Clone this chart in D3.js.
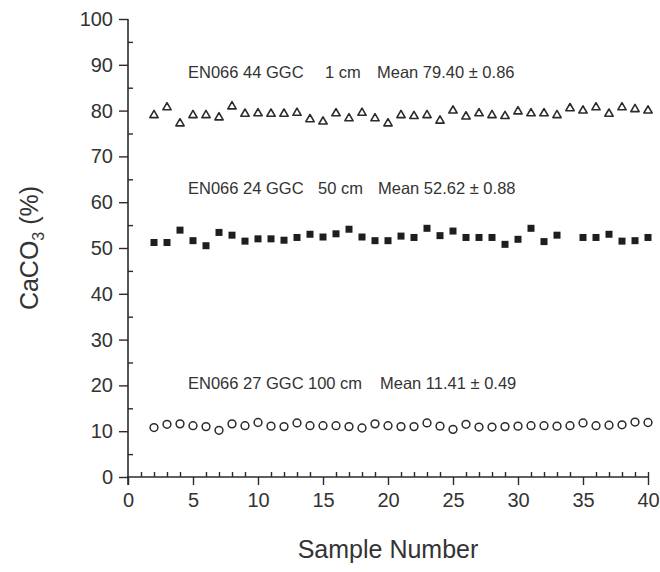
<!DOCTYPE html>
<html>
<head>
<meta charset="utf-8">
<script src="https://cdn.jsdelivr.net/npm/d3@7"></script>
<style>
  html, body { margin: 0; padding: 0; background: #fff; }
  svg { display: block; font-family: "Liberation Sans", Arial, Helvetica, sans-serif; }
</style>
</head>
<body>
<svg id="chart" width="660" height="572"></svg>
<script>
// Sample numbers 2..40 shared by all three cores
const samples = d3.range(2, 41);

// EN066 44 GGC, 1 cm — CaCO3 (%)
const core44 = [79.0, 80.7, 77.2, 79.0, 79.0, 78.5, 80.9, 79.3, 79.4, 79.3,
                79.3, 79.5, 78.1, 77.6, 79.4, 78.3, 79.5, 78.3, 77.2, 79.0,
                78.8, 79.0, 77.8, 80.0, 78.7, 79.4, 79.0, 78.8, 79.8, 79.4,
                79.4, 79.0, 80.5, 80.0, 80.7, 79.3, 80.7, 80.3, 80.0];

// EN066 24 GGC, 50 cm — sample 34 has no value
const core24 = [51.2, 51.2, 53.9, 51.6, 50.5, 53.4, 52.8, 51.5, 52.0, 52.0,
                51.7, 52.3, 53.0, 52.4, 53.1, 54.1, 52.4, 51.6, 51.6, 52.6,
                52.3, 54.3, 52.7, 53.7, 52.3, 52.3, 52.3, 50.8, 51.9, 54.3,
                51.4, 52.8, null, 52.3, 52.3, 53.0, 51.5, 51.6, 52.3];

// EN066 27 GGC, 100 cm
const core27 = [10.8, 11.5, 11.6, 11.2, 11.0, 10.2, 11.6, 11.2, 11.9, 11.1,
                11.0, 11.8, 11.2, 11.2, 11.2, 11.0, 10.7, 11.6, 11.2, 11.0,
                11.0, 11.8, 11.1, 10.4, 11.5, 10.9, 10.9, 11.0, 11.1, 11.2,
                11.2, 11.1, 11.2, 11.8, 11.2, 11.3, 11.4, 12.0, 11.9];

const xTicks = [0, 5, 10, 15, 20, 25, 30, 35, 40];
const yTicks = [0, 10, 20, 30, 40, 50, 60, 70, 80, 90, 100];

const coreNames  = ["EN066 44 GGC", "EN066 24 GGC", "EN066 27 GGC"];
const coreDepths = ["1 cm", "50 cm", "100 cm"];
const coreMeans  = ["Mean 79.40 \u00b1 0.86", "Mean 52.62 \u00b1 0.88", "Mean 11.41 \u00b1 0.49"];

const ink = "#2b2b2b";
const svg = d3.select("#chart");

const x = d3.scaleLinear().domain([0, 40]).range([128, 648]);
const y = d3.scaleLinear().domain([0, 100]).range([477, 19]);

// ---- axes ----
const gx = svg.append("g").attr("transform", `translate(0,${y(0)})`);
gx.call(d3.axisBottom(x).tickValues(xTicks).tickSize(8).tickPadding(8)
        .tickFormat(d3.format("d")));
// minor ticks pointing inward
const gxm = svg.append("g").attr("transform", `translate(0,${y(0)})`);
gxm.call(d3.axisTop(x).tickValues(d3.range(1, 41).filter(d => d % 5 !== 0 || d === 40))
        .tickSize(5).tickFormat(""));
gxm.select(".domain").remove();

const gy = svg.append("g").attr("transform", `translate(${x(0)},0)`);
gy.call(d3.axisLeft(y).tickValues(yTicks).tickSize(9).tickPadding(6)
        .tickFormat(d3.format("d")));
const gym = svg.append("g").attr("transform", `translate(${x(0)},0)`);
gym.call(d3.axisRight(y).tickValues(d3.range(5, 100, 10)).tickSize(5).tickFormat(""));
gym.select(".domain").remove();

svg.selectAll(".domain").attr("stroke", ink).attr("stroke-width", 1.6);
// plain straight axis lines (no end caps)
gx.select(".domain").attr("d", `M${x(0) - 1},0H${x(40)}`);
gy.select(".domain").attr("d", `M0,${y(100)}V${y(0) + 8}`);

svg.selectAll(".tick line").attr("stroke", ink).attr("stroke-width", 1.4);
svg.selectAll(".tick text").attr("fill", "#333").attr("font-size", 20)
   .attr("font-family", "'Liberation Sans', Arial, sans-serif");
gx.selectAll(".tick text").attr("dy", "0.71em");

// axis titles
svg.append("text")
  .attr("x", (x(0) + x(40)) / 2).attr("y", 558)
  .attr("text-anchor", "middle").attr("font-size", 25).attr("fill", "#333")
  .text("Sample Number");

const yt = svg.append("text")
  .attr("transform", `translate(38,${(y(0) + y(100)) / 2}) rotate(-90)`)
  .attr("text-anchor", "middle").attr("font-size", 25).attr("fill", "#333");
yt.append("tspan").text("CaCO");
yt.append("tspan").attr("font-size", 16).attr("dy", 6).text("3");
yt.append("tspan").attr("dy", -6).text(" (%)");

// ---- core annotations (baseline, depth start, mean start per row) ----
const annLayout = [
  { base: 78,  depthX: 325, meanX: 377 },
  { base: 194, depthX: 318, meanX: 378 },
  { base: 389, depthX: 308, meanX: 380 }
];
const ann = svg.append("g").attr("fill", "#333").attr("font-size", 16.5);
coreNames.forEach((name, i) => {
  const L = annLayout[i];
  const t = ann.append("text").attr("y", L.base);
  t.append("tspan").attr("x", 188).text(name);
  t.append("tspan").attr("x", L.depthX).text(coreDepths[i]);
  t.append("tspan").attr("x", L.meanX).text(coreMeans[i]);
});

// ---- data marks ----
const tri = d3.symbol().type(d3.symbolTriangle).size(30);
svg.append("g").selectAll("path")
  .data(samples.map((s, i) => ({ s, v: core44[i] })))
  .join("path")
  .attr("transform", d => `translate(${x(d.s)},${y(d.v)})`)
  .attr("d", tri)
  .attr("fill", "none").attr("stroke", ink).attr("stroke-width", 1.6)
  .attr("stroke-linejoin", "round");

const sq = 7;
svg.append("g").selectAll("rect")
  .data(samples.map((s, i) => ({ s, v: core24[i] })).filter(d => d.v != null))
  .join("rect")
  .attr("x", d => x(d.s) - sq / 2).attr("y", d => y(d.v) - sq / 2)
  .attr("width", sq).attr("height", sq)
  .attr("fill", "#1e1e1e");

svg.append("g").selectAll("circle")
  .data(samples.map((s, i) => ({ s, v: core27[i] })))
  .join("circle")
  .attr("cx", d => x(d.s)).attr("cy", d => y(d.v)).attr("r", 3.9)
  .attr("fill", "none").attr("stroke", ink).attr("stroke-width", 1.5);
</script>
</body>
</html>
